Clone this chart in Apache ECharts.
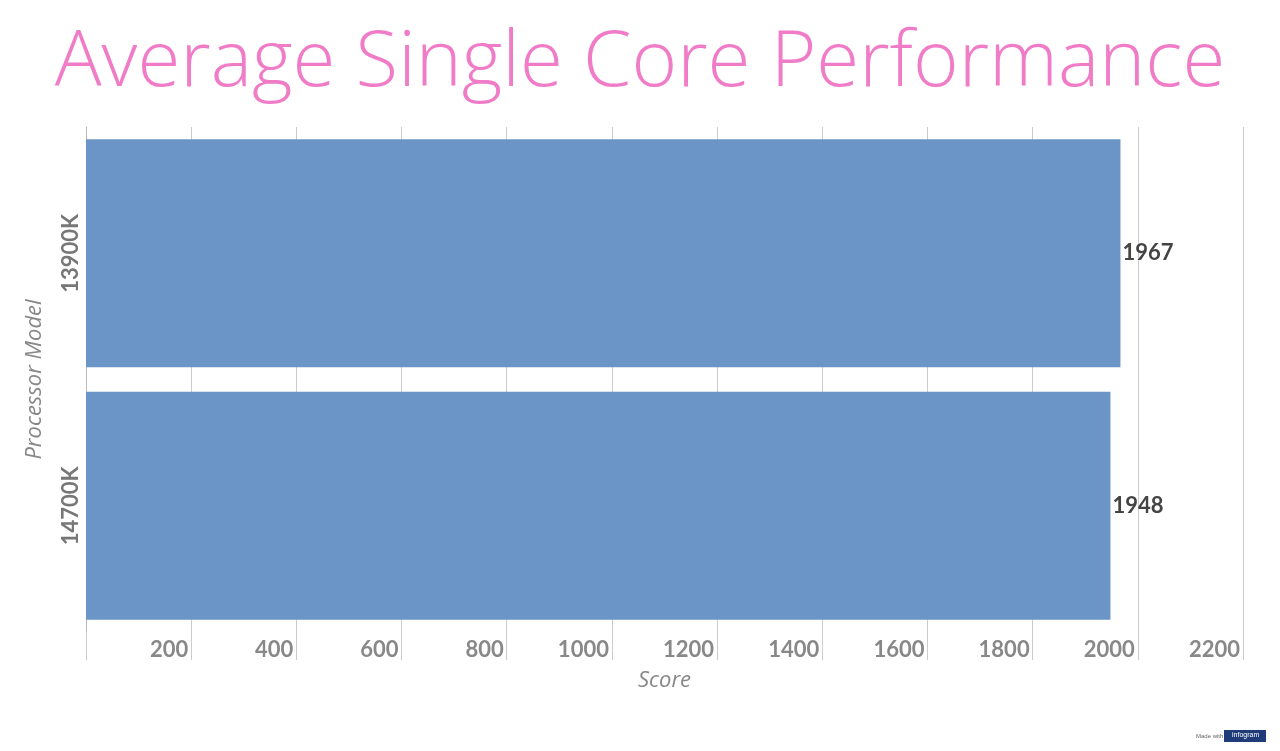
<!DOCTYPE html>
<html lang="en">
<head>
    <meta charset="UTF-8">
    <title>Average Single Core Performance</title>
    <script src="https://cdn.jsdelivr.net/npm/echarts@6/dist/echarts.min.js"></script>
    <style>
        body{ margin:0; padding:0; background:#fff; }
        #chart{ width:1280px; height:751px; }
    </style>
</head>
<body>
<div id="chart"></div>
<script>
var categories = ['14700K', '13900K'];
var scores = [1948, 1967];
var tickMax = 2200;
var tickStep = 200;

var chart = echarts.init(document.getElementById('chart'));
chart.setOption({
    animation: false,
    title: {
        text: 'Average Single Core Performance',
        left: 'center', top: 20,
        textStyle: { fontFamily: 'Open Sans', fontWeight: 300, fontSize: 78, color: '#f07cc8' }
    },
    grid: { left: 86, right: 37, top: 127, bottom: 119 },
    xAxis: {
        type: 'value', min: 0, max: tickMax, interval: tickStep,
        name: 'Score', nameLocation: 'middle', nameGap: 38,
        nameTextStyle: { fontFamily: 'Open Sans', fontStyle: 'italic', fontSize: 22, color: '#888' },
        axisLine: { show: false },
        axisTick: { show: true, length: 28, lineStyle: { color: '#ccc' } },
        axisLabel: {
            margin: 7, align: 'right', padding: [0, 3, 0, 0],
            fontFamily: 'Lato', fontWeight: 'bold', fontSize: 22, color: '#888',
            formatter: function (v) { return v === 0 ? '' : v; }
        },
        splitLine: { show: true, lineStyle: { color: '#ccc' } }
    },
    yAxis: {
        type: 'category', data: categories,
        name: 'Processor Model', nameLocation: 'middle', nameGap: 40,
        nameTextStyle: { fontFamily: 'Open Sans', fontStyle: 'italic', fontSize: 22, color: '#888' },
        axisLine: { show: true, lineStyle: { color: '#bbb' } },
        axisTick: { show: false },
        axisLabel: { rotate: 90, margin: 4, fontFamily: 'Lato', fontWeight: 'bold', fontSize: 22, color: '#777' }
    },
    series: [{
        type: 'bar', data: scores, barWidth: 228,
        itemStyle: { color: '#6a95c6' },
        label: { show: true, position: 'right', distance: 2,
                 fontFamily: 'Lato', fontWeight: 'bold', fontSize: 22, color: '#444' }
    }],
    graphic: [
        { type: 'text', left: 1196, top: 733, style: { text: 'Made with', fontSize: 6, fill: '#666' } },
        { type: 'rect', left: 1224, top: 730, shape: { width: 42, height: 12 }, style: { fill: '#1f3c78' } },
        { type: 'text', left: 1232, top: 732, style: { text: 'infogram', fontSize: 7, fill: '#fff' } }
    ]
});
</script>
</body>
</html>
